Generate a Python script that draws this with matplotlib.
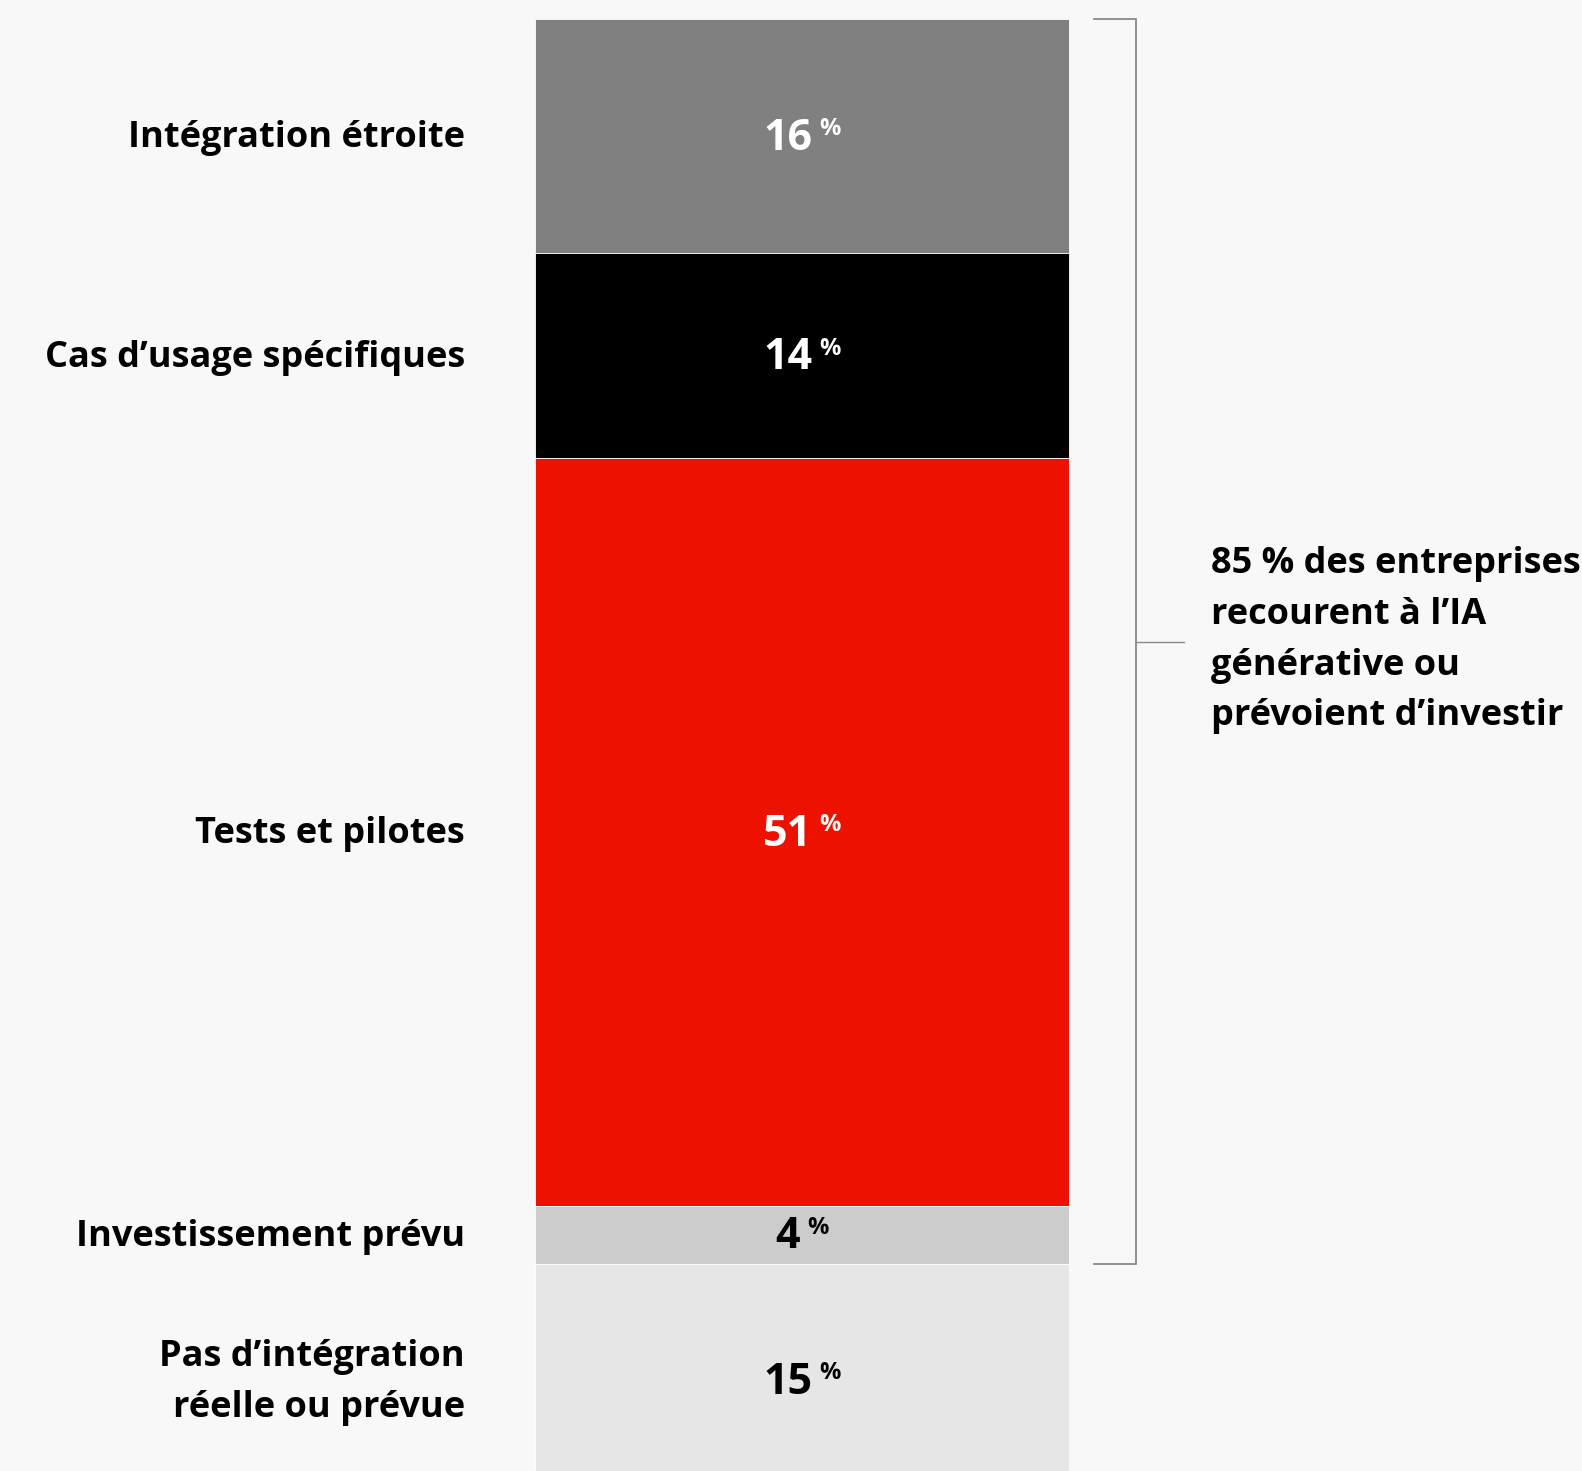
import matplotlib
matplotlib.use("Agg")
import matplotlib.pyplot as plt
import matplotlib.transforms as mtransforms
import numpy as np

# Stacked bar data (top to bottom)
categories = ["Intégration étroite", "Cas d’usage spécifiques", "Tests et pilotes",
              "Investissement prévu", "Pas d’intégration\nréelle ou prévue"]
values = [16, 14, 51, 4, 15]
colors = ["#808080", "#000000", "#EE1100", "#CCCCCC", "#E6E6E6"]
text_colors = ["white", "white", "white", "black", "black"]
bracket_note = "85 % des entreprises\nrecourent à l’IA\ngénérative ou\nprévoient d’investir"
bracket_total = sum(values[:4])

plt.rcParams['font.family'] = ['Open Sans', 'DejaVu Sans']

W, H = 1582, 1471
fig = plt.figure(figsize=(W / 100, H / 100), dpi=100, facecolor="#F8F8F8")
ax = fig.add_axes([0, 0, 1, 1])
ax.set_facecolor("#F8F8F8")
ax.axis("off")

# pixel layout
bar_l, bar_r, bar_top, px_per = 535, 1069, 19, 14.65
bw = bar_r - bar_l
ax.set_xlim(-0.5 - bar_l / bw, 0.5 + (W - bar_r) / bw)
ax.set_ylim(-bar_top / px_per, (H - bar_top) / px_per)
ax.invert_yaxis()

bottoms = np.concatenate([[0], np.cumsum(values)[:-1]])
ax.bar([0] * len(values), values, bottom=bottoms, width=1.0, color=colors,
       edgecolor="white", linewidth=0.6)

trans = mtransforms.blended_transform_factory(ax.transAxes, ax.transData)
renderer = fig.canvas.get_renderer()

for i, (cat, v, b, tc) in enumerate(zip(categories, values, bottoms, text_colors)):
    mid = b + v / 2
    dy = -8 if i == len(values) - 1 else -2  # bottom segment runs off the page
    lab_tr = mtransforms.offset_copy(trans, fig=fig, x=0, y=dy, units="dots")
    ax.text(465 / W, mid, cat, transform=lab_tr, ha="right", va="center",
            fontsize=26, fontweight="bold", color="black", linespacing=1.55)
    num = ax.text(0, mid, str(v), ha="right", va="center", fontsize=31,
                  fontweight="bold", color=tc)
    pct = ax.text(0, mid, "%", ha="left", va="center", fontsize=17,
                  fontweight="bold", color=tc)
    wn = num.get_window_extent(renderer).width
    wp = pct.get_window_extent(renderer).width
    gap = 7
    total = wn + gap + wp
    cx = (bar_l + bar_r) / 2 / W
    num.set_transform(mtransforms.offset_copy(trans, fig=fig, x=-total / 2 + wn, y=dy, units="dots"))
    num.set_x(cx)
    pct.set_transform(mtransforms.offset_copy(trans, fig=fig, x=-total / 2 + wn + gap, y=dy + 9, units="dots"))
    pct.set_x(cx)

# bracket
bx, bl, bt = 1136 / W, 1094 / W, 1184 / W
ax.plot([bl, bx, bx, bl], [0, 0, bracket_total, bracket_total], transform=trans,
        color="#8a8a8a", lw=1.3, solid_joinstyle="miter")
ax.plot([bx, bt], [bracket_total / 2, bracket_total / 2], transform=trans,
        color="#8a8a8a", lw=1.0)
ax.text(1211 / W, bracket_total / 2 - 0.1, bracket_note, transform=trans, ha="left",
        va="center", fontsize=26, fontweight="bold", color="black", linespacing=1.55)

fig.savefig("out.png", dpi=100, facecolor=fig.get_facecolor())
